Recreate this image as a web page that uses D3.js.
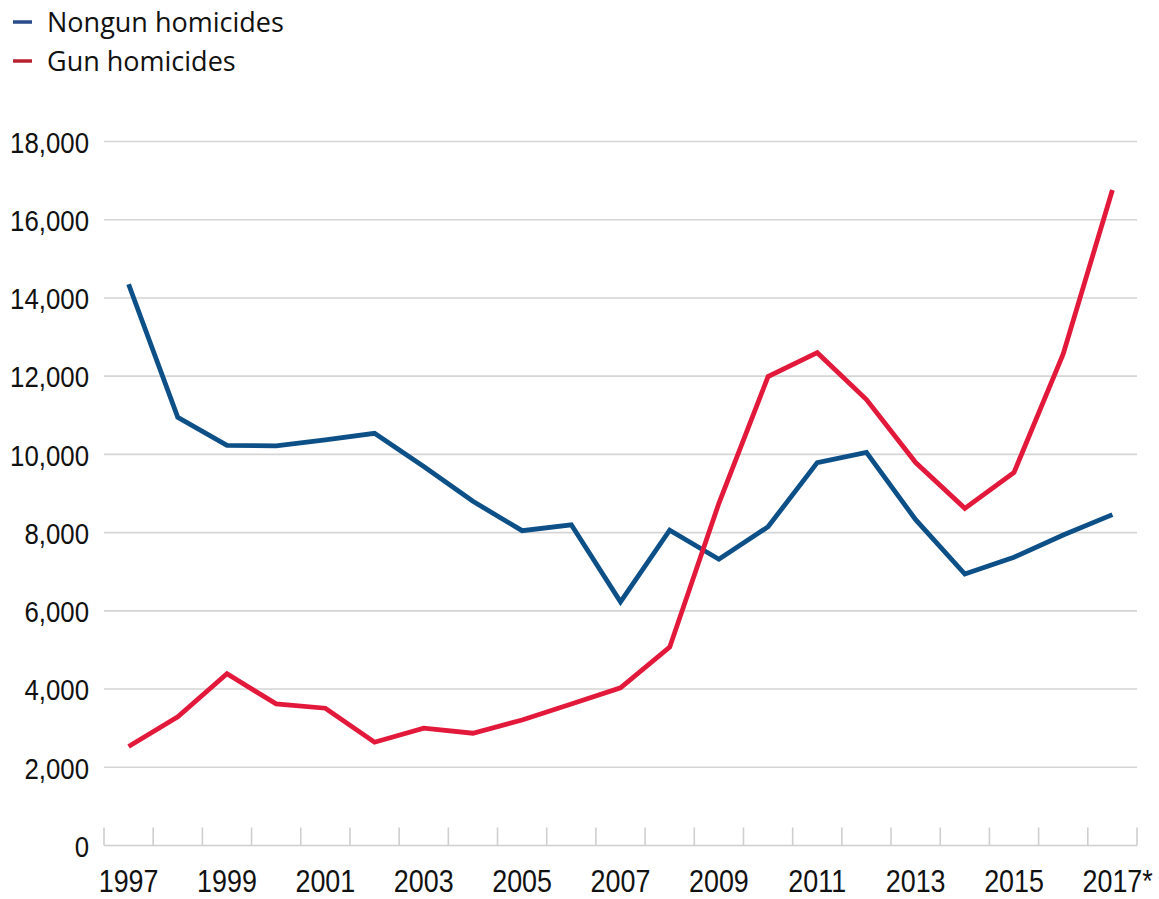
<!DOCTYPE html>
<html><head><meta charset="utf-8">
<script src="https://cdn.jsdelivr.net/npm/d3@7"></script>
<style>body{margin:0;background:#fff} svg{display:block}</style>
</head><body>
<svg id="chart" width="1159" height="899"></svg>
<script>
const years = [1997,1998,1999,2000,2001,2002,2003,2004,2005,2006,2007,2008,2009,2010,2011,2012,2013,2014,2015,2016,2017];
const nongun = [14350,10950,10230,10220,10370,10540,9690,8800,8050,8200,6230,8060,7320,8150,9790,10050,8330,6940,7370,7940,8460];
const gun = [2530,3290,4390,3620,3510,2640,3000,2870,3210,3620,4030,5070,8750,11990,12600,11400,9790,8620,9540,12570,16760];
const yTicks = [0,2000,4000,6000,8000,10000,12000,14000,16000,18000];
const xLabelYears = [1997,1999,2001,2003,2005,2007,2009,2011,2013,2015,2017];
const xLabelText = ["1997","1999","2001","2003","2005","2007","2009","2011","2013","2015","2017*"];
const seriesNames = ["Nongun homicides","Gun homicides"];
const lineColors = ["#0d5088","#e3193b"];
const legendColors = ["#274b8b","#b8222e"];

const svg = d3.select("#chart");
const x = d3.scaleBand().domain(years).range([104,1137]).padding(0);
const y = d3.scaleLinear().domain([0,18000]).range([845.5,141.5]);
const FONT = "'Liberation Sans', Arial, sans-serif";

// gridlines
svg.append("g").selectAll("line").data(yTicks.filter(d=>d>0)).join("line")
  .attr("x1",104).attr("x2",1137).attr("y1",d=>y(d)).attr("y2",d=>y(d))
  .attr("stroke","#d5d5d5").attr("stroke-width",1.6);

// baseline + band boundary ticks
const xb = svg.append("g");
xb.append("line").attr("x1",104).attr("x2",1137).attr("y1",y(0)).attr("y2",y(0))
  .attr("stroke","#cfcfcf").attr("stroke-width",1.6);
const bounds = years.map(d=>x(d)).concat([x.range()[1]]);
xb.selectAll("line.tk").data(bounds).join("line").attr("class","tk")
  .attr("x1",d=>d).attr("x2",d=>d).attr("y1",y(0)).attr("y2",y(0)-18)
  .attr("stroke","#cfcfcf").attr("stroke-width",1.6);

// y axis labels
const ya = svg.append("g").attr("transform","translate(104,0)")
  .call(d3.axisLeft(y).tickValues(yTicks).tickSize(0).tickFormat(d3.format(",")));
ya.select(".domain").remove();
ya.selectAll("text").attr("x",null).attr("dy","0.36em")
  .attr("transform","translate(-15,0) scale(0.86,1)")
  .style("font-family",FONT).style("font-size","30px").attr("fill","#111");

// x labels
const xl = svg.append("g");
xLabelYears.forEach((yr,i)=>{
  const cx = x(yr)+x.bandwidth()/2;
  const t = xl.append("text").attr("text-anchor","start")
    .style("font-family",FONT).style("font-size","32px").attr("fill","#111");
  t.text(xLabelText[i]);
  const yearLen = t.node().getSubStringLength(0,4);
  t.attr("transform",`translate(${cx},892) scale(0.84,1)`).attr("x",-yearLen/2);
});

// lines
const line = d3.line().x((d,i)=>x(years[i])+x.bandwidth()/2).y(d=>y(d));
[nongun,gun].forEach((s,k)=>{
  svg.append("path").datum(s).attr("d",line).attr("fill","none")
    .attr("stroke",lineColors[k]).attr("stroke-width",4.8).attr("stroke-linejoin","miter");
});

// legend
const lg = svg.append("g");
seriesNames.forEach((n,i)=>{
  const ly = 22 + i*39;
  lg.append("line").attr("x1",13).attr("x2",32).attr("y1",ly).attr("y2",ly)
    .attr("stroke",legendColors[i]).attr("stroke-width",3.5);
  lg.append("text").attr("x",47).attr("y",ly).attr("dy","0.36em").text(n)
    .style("font-family","'Open Sans', sans-serif").style("font-size","27px").attr("fill","#111");
});
</script>
</body></html>
